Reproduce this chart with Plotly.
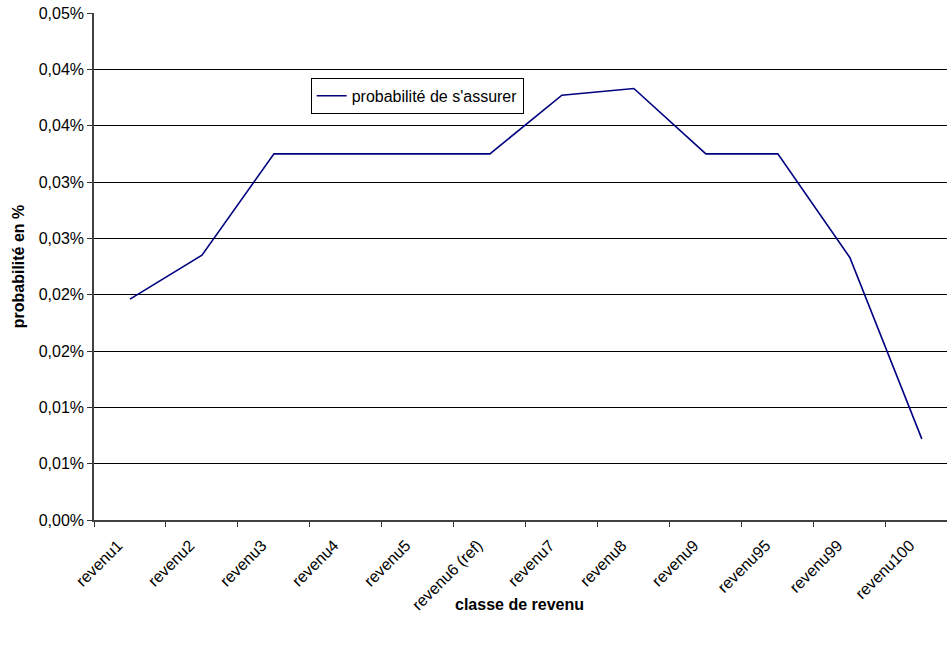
import plotly.graph_objects as go

# Income classes and the probability of taking out insurance (in %)
categories = ["revenu1", "revenu2", "revenu3", "revenu4", "revenu5", "revenu6 (ref)",
              "revenu7", "revenu8", "revenu9", "revenu95", "revenu99", "revenu100"]
probabilite = [0.0196, 0.0235, 0.0325, 0.0325, 0.0325, 0.0325,
               0.0377, 0.0383, 0.0325, 0.0325, 0.0233, 0.0072]

y_ticks = [0.0, 0.005, 0.01, 0.015, 0.02, 0.025, 0.03, 0.035, 0.04, 0.045]
y_labels = ["0,00%", "0,01%", "0,01%", "0,02%", "0,02%", "0,03%", "0,03%", "0,04%", "0,04%", "0,05%"]

FONT = "Liberation Sans, Arial, sans-serif"

fig = go.Figure()
fig.add_trace(go.Scatter(
    x=categories, y=probabilite, mode="lines",
    name="probabilité de s'assurer",
    line=dict(color="#000080", width=1.6),
))

fig.update_layout(
    width=947, height=646,
    margin=dict(l=94, r=0, t=13, b=126),
    plot_bgcolor="white", paper_bgcolor="white",
    font=dict(family=FONT, size=16, color="black"),
    showlegend=True,
    legend=dict(
        x=0.254, y=0.872, xanchor="left", yanchor="top",
        bordercolor="black", borderwidth=1, bgcolor="white",
        font=dict(family=FONT, size=16, color="black"),
        itemwidth=30,
        entrywidth=185, entrywidthmode="pixels",
    ),
    xaxis=dict(
        type="category",
        range=[-0.5, 11.35],
        tickson="boundaries",
        ticks="outside", ticklen=5, tickcolor="#333",
        showgrid=False,
        showline=True, linecolor="#404040", linewidth=1.5,
        tickangle=-45,
        ticklabelshift=-12,
        ticklabelstandoff=8,
        tickfont=dict(family=FONT, size=16),
    ),
    yaxis=dict(
        range=[0, 0.045],
        tickvals=y_ticks, ticktext=y_labels,
        ticks="outside", ticklen=5, tickcolor="#333",
        showgrid=True, gridcolor="black", gridwidth=1,
        zeroline=False,
        showline=True, linecolor="#404040", linewidth=1.5,
        tickfont=dict(family=FONT, size=16),
        title=dict(text="<b>probabilité en %</b>", font=dict(family=FONT, size=16), standoff=10),
    ),
)

# x-axis title placed below the rotated category labels
fig.add_annotation(
    text="<b>classe de revenu</b>", xref="paper", yref="paper",
    x=0.499, y=-0.166, xanchor="center", yanchor="middle",
    showarrow=False, font=dict(family=FONT, size=16, color="black"),
)

fig.write_html("out.html")
